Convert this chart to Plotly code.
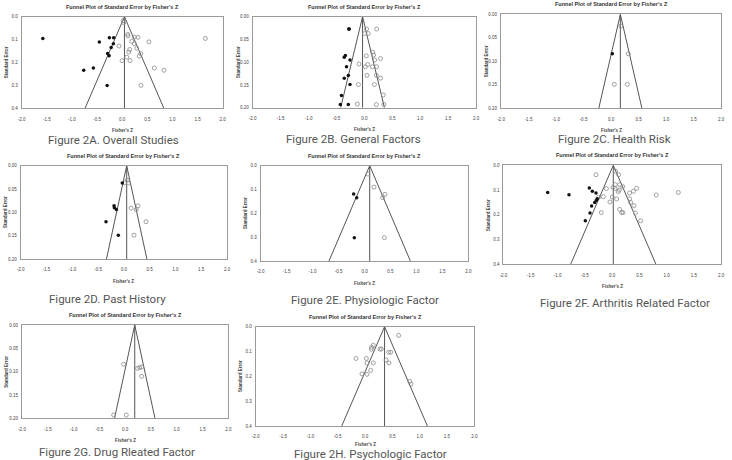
import plotly.graph_objects as go

W, H = 732, 460

# ---------------- data (Fisher's Z, standard error) ----------------
# Panel A: Overall Studies
a_obs_z = [0.02, 0.03, 0.11, 0.115, 0.24, 0.315, 0.19, 0.24, 0.53, 1.655, -0.063, 0.15, 0.13, 0.29, 0.37,
           0.34, 0.09, -0.003, 0.156, 0.64, 0.83, 0.375]
a_obs_se = [0.017, 0.026, 0.077, 0.084, 0.089, 0.09, 0.108, 0.118, 0.11, 0.095, 0.128, 0.143, 0.154, 0.138,
            0.161, 0.172, 0.177, 0.192, 0.192, 0.224, 0.234, 0.30]
a_imp_z = [-1.58, -0.255, -0.17, -0.455, -0.176, -0.22, -0.29, -0.26, -0.766, -0.574, -0.30]
a_imp_se = [0.095, 0.092, 0.092, 0.11, 0.118, 0.134, 0.161, 0.17, 0.234, 0.224, 0.30]
a_est = [0.12, 0.045]  # observed, adjusted

# Panel B: General Factors
b_obs_z = [0.04, 0.22, 0.006, 0.07, 0.15, 0.167, 0.036, 0.29, 0.185, -0.096, 0.06, 0.018, 0.143, 0.22,
           0.048, 0.215, 0.29, -0.107, 0.18, 0.34, -0.125, 0.215, 0.35]
b_obs_se = [0.027, 0.027, 0.037, 0.037, 0.078, 0.084, 0.086, 0.092, 0.095, 0.104, 0.105, 0.11, 0.11, 0.11,
            0.129, 0.129, 0.135, 0.149, 0.149, 0.172, 0.192, 0.193, 0.193]
b_imp_z = [-0.28, -0.27, -0.34, -0.36, -0.257, -0.32, -0.287, -0.36, -0.257, -0.41, -0.43, -0.287]
b_imp_se = [0.027, 0.027, 0.085, 0.089, 0.095, 0.11, 0.129, 0.135, 0.149, 0.173, 0.193, 0.193]
b_est = [0.054, -0.032]

# Panel C: Health Risk
c_obs_z = [0.18, 0.315, 0.06, 0.297]
c_obs_se = [0.025, 0.084, 0.149, 0.149]
c_imp_z = [0.024]
c_imp_se = [0.084]
c_est = [0.18, 0.17]

# Panel D: Past History
d_obs_z = [0.01, 0.068, 0.087, 0.14, 0.275, 0.24, 0.43, 0.197]
d_obs_se = [0.037, 0.031, 0.037, 0.091, 0.086, 0.094, 0.12, 0.149]
d_imp_z = [-0.03, -0.19, -0.184, -0.145, -0.346, -0.107]
d_imp_se = [0.037, 0.086, 0.09, 0.094, 0.12, 0.149]
d_est = [0.06, 0.055]

# Panel E: Physiologic Factor
e_obs_z = [0.067, 0.183, 0.395, 0.35, 0.382]
e_obs_se = [0.035, 0.09, 0.12, 0.134, 0.302]
e_imp_z = [-0.209, -0.15, -0.196]
e_imp_se = [0.119, 0.134, 0.302]
e_est = [0.12, 0.10]

# Panel F: Arthritis Related Factor
f_obs_z = [-0.297, 0.064, 0.12, 0.058, 0.015, 0.138, 0.193, 0.052, -0.107, 0.13, 0.113, 0.45, 0.39, 0.32,
           -0.248, -0.162, 0.003, 0.083, 0.32, 0.34, -0.04, 0.40, 0.138, 0.175, 0.20, -0.20, 0.426, 0.524,
           0.81, 1.216]
f_obs_se = [0.038, 0.024, 0.038, 0.078, 0.089, 0.078, 0.086, 0.093, 0.094, 0.10, 0.106, 0.093, 0.105,
            0.112, 0.129, 0.127, 0.128, 0.136, 0.135, 0.15, 0.148, 0.163, 0.178, 0.191, 0.191, 0.191, 0.193,
            0.224, 0.12, 0.11]
f_imp_z = [-1.185, -0.793, -0.42, -0.364, -0.297, -0.273, -0.29, -0.32, -0.377, -0.407, -0.493]
f_imp_se = [0.11, 0.119, 0.092, 0.105, 0.112, 0.135, 0.141, 0.15, 0.164, 0.193, 0.224]
f_est = [0.089, 0.021]

# Panel G: Drug Rleated Factor
g_obs_z = [-0.029, 0.242, 0.281, 0.32, 0.32, -0.223, 0.022]
g_obs_se = [0.084, 0.093, 0.091, 0.09, 0.11, 0.193, 0.193]
g_imp_z = []
g_imp_se = []
g_est = [0.186, 0.186]

# Panel H: Psychologic Factor
h_obs_z = [0.616, 0.152, 0.122, 0.116, 0.274, 0.30, 0.433, 0.47, -0.165, 0.024, 0.384, 0.037, 0.152,
           0.439, 0.104, -0.055, 0.037, 0.817, 0.841]
h_obs_se = [0.035, 0.075, 0.083, 0.091, 0.09, 0.09, 0.103, 0.103, 0.128, 0.128, 0.134, 0.146, 0.146,
            0.146, 0.176, 0.19, 0.192, 0.22, 0.231]
h_imp_z = []
h_imp_se = []
h_est = [0.358, 0.358]

captions = ["Figure 2A. Overall Studies", "Figure 2B. General Factors", "Figure 2C. Health Risk",
            "Figure 2D. Past History", "Figure 2E. Physiologic Factor", "Figure 2F. Arthritis Related Factor",
            "Figure 2G. Drug Rleated Factor", "Figure 2H. Psychologic Factor"]
se_max = [0.4, 0.2, 0.2, 0.2, 0.4, 0.4, 0.2, 0.4]
x_ticks = [-2.0, -1.5, -1.0, -0.5, 0.0, 0.5, 1.0, 1.5, 2.0]
plot_title = "Funnel Plot of Standard Error by Fisher's Z"

series = [
    (a_obs_z, a_obs_se, a_imp_z, a_imp_se, a_est),
    (b_obs_z, b_obs_se, b_imp_z, b_imp_se, b_est),
    (c_obs_z, c_obs_se, c_imp_z, c_imp_se, c_est),
    (d_obs_z, d_obs_se, d_imp_z, d_imp_se, d_est),
    (e_obs_z, e_obs_se, e_imp_z, e_imp_se, e_est),
    (f_obs_z, f_obs_se, f_imp_z, f_imp_se, f_est),
    (g_obs_z, g_obs_se, g_imp_z, g_imp_se, g_est),
    (h_obs_z, h_obs_se, h_imp_z, h_imp_se, h_est),
]

# ---------------- layout (pixel boxes: left, right, top, bottom) ----------------
boxes = [
    (21.7, 222.7, 16.7, 108.3),
    (252.7, 476.0, 16.7, 107.7),
    (501.0, 721.0, 14.3, 108.3),
    (20.7, 227.0, 165.7, 259.0),
    (260.7, 468.3, 165.7, 261.0),
    (503.3, 721.0, 165.3, 264.3),
    (22.0, 228.3, 325.0, 418.3),
    (255.7, 474.3, 326.7, 426.0),
]
xtitle_gap = [22, 22, 22, 22, 22, 22, 22, 18]
caption_pos = [(113, 140), (353, 139), (614, 139), (107, 299), (365, 300), (625, 303), (117, 452), (370, 454)]

fig = go.Figure()
layout = dict(width=W, height=H, margin=dict(l=0, r=0, t=0, b=0), showlegend=False,
              paper_bgcolor="white", plot_bgcolor="white")
annotations = []


def ann(text, x, y, font, angle=0):
    return dict(text=text, x=x / W, y=1 - y / H, xref="paper", yref="paper", showarrow=False,
                xanchor="center", yanchor="middle", textangle=angle, font=font)


TICKFONT = dict(family="Liberation Sans", size=4.5, color="#444")
SMALL = dict(family="Liberation Sans", size=4.5, color="#444")
for i, ((oz, ose, iz, ise, est), (l, r, t, b), smax) in enumerate(zip(series, boxes, se_max)):
    n = "" if i == 0 else str(i + 1)
    xa, ya = "x" + n, "y" + n
    c = est[1]
    hw = 1.96 * smax
    fig.add_trace(go.Scatter(x=[c - hw, c, c + hw], y=[smax, 0, smax], mode="lines",
                             line=dict(color="#555", width=1), xaxis=xa, yaxis=ya, hoverinfo="skip"))
    fig.add_trace(go.Scatter(x=[c, c], y=[0, smax], mode="lines",
                             line=dict(color="#555", width=1), xaxis=xa, yaxis=ya, hoverinfo="skip"))
    fig.add_trace(go.Scatter(x=oz, y=ose, mode="markers", cliponaxis=False,
                             marker=dict(symbol="circle-open", size=4, color="#8a8a8a", line=dict(width=0.8)),
                             xaxis=xa, yaxis=ya))
    if iz:
        fig.add_trace(go.Scatter(x=iz, y=ise, mode="markers", cliponaxis=False,
                                 marker=dict(symbol="circle", size=3.5, color="#111"),
                                 xaxis=xa, yaxis=ya))
    fig.add_trace(go.Scatter(x=[est[0]], y=[smax * 1.025], mode="markers", cliponaxis=False,
                             marker=dict(symbol="diamond-open", size=5, color="#777", line=dict(width=0.8)),
                             xaxis=xa, yaxis=ya))
    fig.add_trace(go.Scatter(x=[est[1]], y=[smax * 1.068], mode="markers", cliponaxis=False,
                             marker=dict(symbol="diamond", size=5, color="#111"),
                             xaxis=xa, yaxis=ya))
    yvals = [smax * k / 4 for k in range(5)]
    fmt = "%.1f" if smax >= 0.4 else "%.2f"
    layout["xaxis" + n] = dict(domain=[l / W, r / W], anchor=ya, range=[-2, 2], tickvals=x_ticks,
                               ticktext=["%.1f" % v for v in x_ticks], ticks="", ticklabelstandoff=6,
                               tickfont=TICKFONT, showgrid=False, zeroline=False, showline=True,
                               mirror=True, linecolor="#9a9a9a", linewidth=1, automargin=False,
                               fixedrange=True)
    layout["yaxis" + n] = dict(domain=[1 - b / H, 1 - t / H], anchor=xa, range=[smax, 0], tickvals=yvals,
                               ticktext=[fmt % v for v in yvals], ticks="", ticklabelstandoff=2,
                               tickfont=TICKFONT, showgrid=False, zeroline=False, showline=True,
                               mirror=True, linecolor="#9a9a9a", linewidth=1, automargin=False,
                               fixedrange=True)
    cx = (l + r) / 2
    annotations.append(ann("<b>" + plot_title + "</b>", cx, t - 10,
                           dict(family="Liberation Sans", size=5.5, color="#333")))
    annotations.append(ann("<b>Fisher's Z</b>", cx, b + xtitle_gap[i], SMALL))
    annotations.append(ann("<b>Standard Error</b>", l - 15, (t + b) / 2, SMALL, angle=-90))
    cxp, cyp = caption_pos[i]
    annotations.append(ann(captions[i], cxp, cyp, dict(family="Roboto", size=11.5, color="#555")))

layout["annotations"] = annotations
fig.update_layout(**layout)
fig.write_html("out.html")
